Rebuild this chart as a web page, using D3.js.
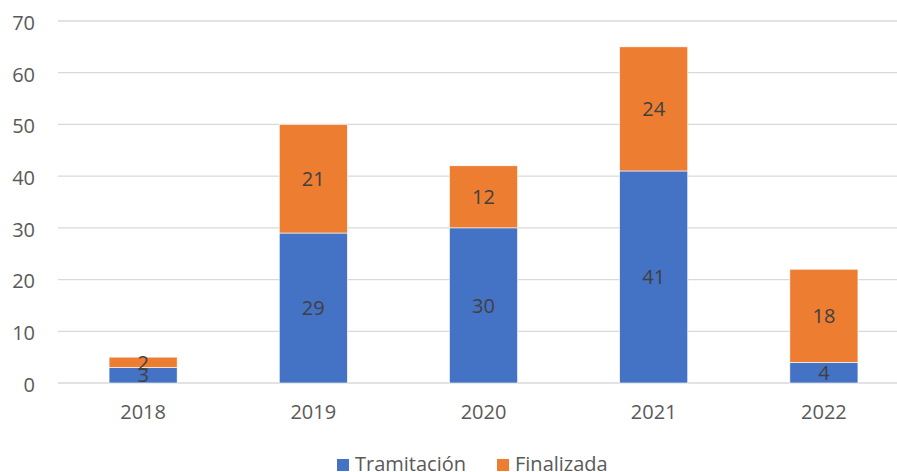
<!DOCTYPE html>
<html><head><meta charset="utf-8">
<script src="https://cdn.jsdelivr.net/npm/d3@7"></script>
<style>body{margin:0;background:#fff}svg{display:block}</style>
</head><body>
<script>
const categories = ["2018","2019","2020","2021","2022"];
const tramitacion = [3,29,30,41,4];
const finalizada = [2,21,12,24,18];
const seriesNames = ["Tramitación","Finalizada"];
const yTicks = [0,10,20,30,40,50,60,70];

const W=897,H=472;
const colors=["#4472C4","#ED7D31"];
const font="'Open Sans', sans-serif";
const fs=20;
const svg=d3.select("body").append("svg").attr("width",W).attr("height",H);

const x=d3.scaleBand().domain(categories).range([58,909]).paddingInner(0.6).paddingOuter(0.3);
const y=d3.scaleLinear().domain([0,70]).range([383,21]);

// gridlines
svg.append("g").selectAll("line").data(yTicks).join("line")
 .attr("x1",58).attr("x2",W).attr("y1",d=>y(d)).attr("y2",d=>y(d))
 .attr("stroke","#d9d9d9").attr("stroke-width",1.3);

// y axis labels
const yAxis=d3.axisLeft(y).tickValues(yTicks).tickSize(0).tickPadding(0);
const ga=svg.append("g").attr("transform","translate(35,2)").call(yAxis);
ga.select(".domain").remove();
ga.selectAll("text").attr("font-family",font).attr("font-size",fs).attr("fill","#595959");

// x axis labels
const xAxis=d3.axisBottom(x).tickSize(0).tickPadding(0);
const gx=svg.append("g").attr("transform","translate(0,419)").call(xAxis);
gx.select(".domain").remove();
gx.selectAll("text").attr("font-family",font).attr("font-size",fs).attr("fill","#595959").attr("y",0).attr("dy","0");

const data=categories.map((c,i)=>({cat:c,Tramitación:tramitacion[i],Finalizada:finalizada[i]}));
const stack=d3.stack().keys(seriesNames)(data);

const g=svg.append("g");
stack.forEach((s,si)=>{
  g.append("g").selectAll("rect").data(s).join("rect")
   .attr("x",d=>x(d.data.cat)).attr("width",x.bandwidth())
   .attr("y",d=>y(d[1])).attr("height",d=>y(d[0])-y(d[1]))
   .attr("fill",colors[si]).attr("stroke","#fff").attr("stroke-width",0.6);
});
stack.forEach((s,si)=>{
  g.append("g").selectAll("text").data(s).join("text")
   .attr("x",d=>x(d.data.cat)+x.bandwidth()/2)
   .attr("y",d=>(y(d[0])+y(d[1]))/2)
   .attr("dy","0.36em").attr("text-anchor","middle")
   .attr("font-family",font).attr("font-size",fs).attr("fill","#404040")
   .text(d=>d[1]-d[0]);
});

// legend
const leg=svg.append("g");
const legX=[337,497];
seriesNames.forEach((n,i)=>{
  leg.append("rect").attr("x",legX[i]).attr("y",459).attr("width",12).attr("height",12).attr("fill",colors[i]);
  leg.append("text").attr("x",legX[i]+18).attr("y",470.5)
   .attr("font-family",font).attr("font-size",fs).attr("fill","#595959").text(n);
});
</script>
</body></html>
